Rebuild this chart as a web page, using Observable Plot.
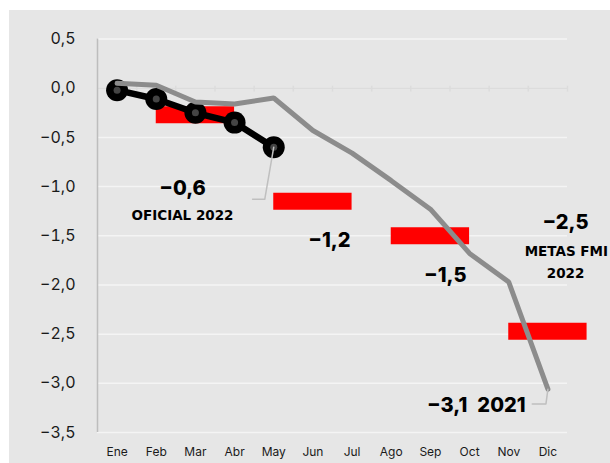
<!DOCTYPE html>
<html>
<head>
<meta charset="utf-8">
<script src="https://cdn.jsdelivr.net/npm/d3@7"></script>
<script src="https://cdn.jsdelivr.net/npm/@observablehq/plot@0.6"></script>
<style>
  html, body { margin: 0; padding: 0; background: #ffffff; }
  #wrap { width: 610px; height: 463px; box-sizing: border-box; padding: 10px 0 0 9px; }
  #chart svg { background: #e6e6e6; display: block; }
</style>
</head>
<body>
<div id="wrap"><div id="chart"></div></div>
<script>
const months = ["Ene","Feb","Mar","Abr","May","Jun","Jul","Ago","Sep","Oct","Nov","Dic"];
const yTicks = [0.5, 0, -0.5, -1, -1.5, -2, -2.5, -3, -3.5];
// Resultado 2021 (gris)
const values2021 = [0.05, 0.03, -0.14, -0.16, -0.10, -0.43, -0.66, -0.94, -1.23, -1.68, -1.97, -3.06];
// Oficial 2022 (negro)
const values2022 = [-0.02, -0.11, -0.25, -0.35, -0.60];
// Metas FMI 2022 (rojo): mes central y valor
const targetMonths = [2, 5, 8, 11];
const targetValues = [-0.27, -1.15, -1.50, -2.47];
// Etiquetas
const bigNotes = [
  {text: "−0,6", m: 1.67, v: -1.02},
  {text: "−1,2", m: 5.42, v: -1.55},
  {text: "−1,5", m: 8.38, v: -1.90},
  {text: "−2,5", m: 11.45, v: -1.37},
  {text: "−3,1\u20022021", m: 9.17, v: -3.23}
];
const smallNotes = [
  {text: "OFICIAL 2022", m: 1.67, v: -1.30},
  {text: "METAS FMI", m: 11.47, v: -1.66},
  {text: "2022", m: 11.45, v: -1.89}
];
const leader2022 = [{m: 4, v: -0.60}, {m: 3.77, v: -1.13}, {m: 3.46, v: -1.13}];
const leader2021 = [{m: 11, v: -3.06}, {m: 10.95, v: -3.21}, {m: 10.6, v: -3.21}];

const s2021 = values2021.map((v, i) => ({m: i, v}));
const s2022 = values2022.map((v, i) => ({m: i, v}));
const targets = targetMonths.map((m, i) => ({m, v: targetValues[i]}));
const boundaries = d3.range(0.5, 12, 1);

const font = "Inter, 'Open Sans', sans-serif";
const fmt = d => d.toFixed(1).replace(".", ",").replace("-", "−");

const chart = Plot.plot({
  width: 601,
  height: 453,
  marginLeft: 88,
  marginRight: 43,
  marginTop: 28.5,
  marginBottom: 31,
  style: {fontFamily: font, background: "#e6e6e6", overflow: "visible"},
  x: {domain: [-0.5, 11.5]},
  y: {domain: [-3.5, 0.5]},
  marks: [
    Plot.gridY(yTicks, {stroke: "#f4f4f4", strokeOpacity: 1, strokeWidth: 1.5}),
    Plot.ruleY([0], {x1: -0.5, x2: 11.5, stroke: "#dcdcdc", strokeWidth: 1.5}),
    Plot.ruleX(boundaries, {y1: 0.02, y2: -0.04, stroke: "#dcdcdc", strokeWidth: 1.5}),
    Plot.ruleX([-0.5], {y1: -3.5, y2: 0.5, stroke: "#bdbdbd", strokeWidth: 1.5}),
    Plot.axisY({ticks: yTicks, tickFormat: fmt, tickSize: 0, tickPadding: 22, fontSize: 16, fill: "#1a1a1a", label: null}),
    Plot.axisX({ticks: d3.range(12), tickFormat: i => months[i], tickSize: 0, tickPadding: 15, fontSize: 12, fill: "#1a1a1a", label: null}),
    Plot.ruleY(targets, {y: "v", x1: d => d.m - 1, x2: d => d.m + 1, stroke: "#ff0000", strokeWidth: 17}),
    Plot.line(s2022, {x: "m", y: "v", stroke: "#000000", strokeWidth: 6.5}),
    Plot.dot(s2022, {x: "m", y: "v", r: 11, fill: "#000000"}),
    Plot.dot(s2022, {x: "m", y: "v", r: 3.5, fill: "#444444"}),
    Plot.line(s2021, {x: "m", y: "v", stroke: "#8c8c8c", strokeWidth: 5, strokeLinejoin: "miter"}),
    Plot.line(leader2022, {x: "m", y: "v", stroke: "#bfbfbf", strokeWidth: 1.5, curve: "linear"}),
    Plot.line(leader2021, {x: "m", y: "v", stroke: "#bfbfbf", strokeWidth: 1.5, curve: "linear"}),
    Plot.text(bigNotes, {x: "m", y: "v", text: "text", fontSize: 20, fontWeight: 800, fill: "#000000"}),
    Plot.text(smallNotes, {x: "m", y: "v", text: "text", fontSize: 13.5, fontWeight: 700, fill: "#000000", fontFamily: "'DejaVu Sans', sans-serif"})
  ]
});
document.getElementById("chart").appendChild(chart);
</script>
</body>
</html>
